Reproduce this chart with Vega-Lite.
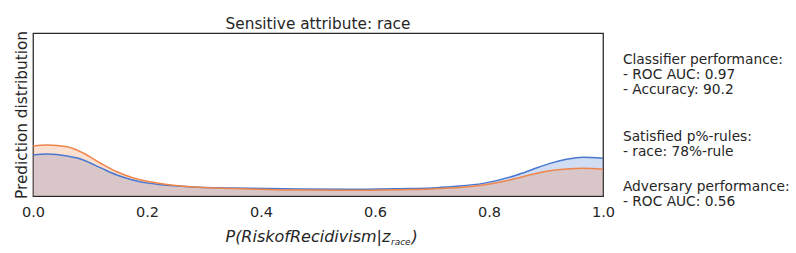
{
  "$schema": "https://vega.github.io/schema/vega-lite/v6.json",
  "width": 570,
  "height": 163,
  "autosize": {"type": "none"},
  "padding": {"left": 33, "top": 33, "right": 193, "bottom": 57},
  "background": "white",
  "config": {
    "font": "DejaVu Sans",
    "view": {"stroke": "#262626", "strokeWidth": 1.25},
    "axis": {"grid": false, "domain": false, "ticks": false, "labelColor": "#262626", "titleColor": "#262626", "titleFontWeight": "normal"},
    "title": {"color": "#262626", "fontWeight": "normal"}
  },
  "title": {"text": "Sensitive attribute: race", "fontSize": 15.3, "offset": -1.5, "font": "DejaVu Sans"},
  "datasets": {
    "kde": [
      {"x": 0.0, "density": 2.01, "group": "race = 0"},
      {"x": 0.025, "density": 2.06, "group": "race = 0"},
      {"x": 0.06, "density": 1.96, "group": "race = 0"},
      {"x": 0.088, "density": 1.77, "group": "race = 0"},
      {"x": 0.118, "density": 1.39, "group": "race = 0"},
      {"x": 0.147, "density": 1.03, "group": "race = 0"},
      {"x": 0.175, "density": 0.79, "group": "race = 0"},
      {"x": 0.205, "density": 0.62, "group": "race = 0"},
      {"x": 0.235, "density": 0.53, "group": "race = 0"},
      {"x": 0.29, "density": 0.43, "group": "race = 0"},
      {"x": 0.35, "density": 0.39, "group": "race = 0"},
      {"x": 0.47, "density": 0.34, "group": "race = 0"},
      {"x": 0.55, "density": 0.33, "group": "race = 0"},
      {"x": 0.644, "density": 0.36, "group": "race = 0"},
      {"x": 0.7, "density": 0.39, "group": "race = 0"},
      {"x": 0.732, "density": 0.46, "group": "race = 0"},
      {"x": 0.79, "density": 0.62, "group": "race = 0"},
      {"x": 0.849, "density": 1.03, "group": "race = 0"},
      {"x": 0.877, "density": 1.31, "group": "race = 0"},
      {"x": 0.907, "density": 1.6, "group": "race = 0"},
      {"x": 0.936, "density": 1.8, "group": "race = 0"},
      {"x": 0.965, "density": 1.9, "group": "race = 0"},
      {"x": 1.0, "density": 1.85, "group": "race = 0"},
      {"x": 0.0, "density": 2.45, "group": "race = 1"},
      {"x": 0.025, "density": 2.5, "group": "race = 1"},
      {"x": 0.06, "density": 2.42, "group": "race = 1"},
      {"x": 0.088, "density": 2.11, "group": "race = 1"},
      {"x": 0.118, "density": 1.62, "group": "race = 1"},
      {"x": 0.147, "density": 1.19, "group": "race = 1"},
      {"x": 0.175, "density": 0.9, "group": "race = 1"},
      {"x": 0.205, "density": 0.7, "group": "race = 1"},
      {"x": 0.235, "density": 0.57, "group": "race = 1"},
      {"x": 0.29, "density": 0.43, "group": "race = 1"},
      {"x": 0.35, "density": 0.37, "group": "race = 1"},
      {"x": 0.47, "density": 0.29, "group": "race = 1"},
      {"x": 0.55, "density": 0.285, "group": "race = 1"},
      {"x": 0.644, "density": 0.31, "group": "race = 1"},
      {"x": 0.7, "density": 0.34, "group": "race = 1"},
      {"x": 0.732, "density": 0.39, "group": "race = 1"},
      {"x": 0.79, "density": 0.54, "group": "race = 1"},
      {"x": 0.849, "density": 0.87, "group": "race = 1"},
      {"x": 0.877, "density": 1.07, "group": "race = 1"},
      {"x": 0.907, "density": 1.24, "group": "race = 1"},
      {"x": 0.936, "density": 1.33, "group": "race = 1"},
      {"x": 0.965, "density": 1.36, "group": "race = 1"},
      {"x": 1.0, "density": 1.31, "group": "race = 1"}
    ],
    "one": [{"note": "annotation"}]
  },
  "layer": [
    {
      "data": {"name": "kde"},
      "mark": {"type": "area", "interpolate": "monotone", "fillOpacity": 0.25},
      "encoding": {
        "x": {"field": "x", "type": "quantitative", "scale": {"domain": [0, 1], "nice": false, "zero": false},
          "axis": {"title": null, "values": [0, 0.2, 0.4, 0.6, 0.8, 1.0], "format": ".1f", "labelFontSize": 14.5, "labelPadding": 9, "labelFlush": false}},
        "y": {"field": "density", "type": "quantitative", "stack": null, "scale": {"domain": [0, 8], "nice": false},
          "axis": {"title": "Prediction distribution", "labels": false, "titleFontSize": 15.3, "titlePadding": 4}},
        "color": {"field": "group", "type": "nominal", "scale": {"domain": ["race = 0", "race = 1"], "range": ["#4878d0", "#ee854a"]}, "legend": null}
      }
    },
    {
      "data": {"name": "kde"},
      "mark": {"type": "line", "interpolate": "monotone", "strokeWidth": 1.5},
      "encoding": {
        "x": {"field": "x", "type": "quantitative"},
        "y": {"field": "density", "type": "quantitative"},
        "color": {"field": "group", "type": "nominal", "legend": null}
      }
    },
    {
      "data": {"name": "one"},
      "mark": {"type": "text", "text": ["Classifier performance:", "- ROC AUC: 0.97", "- Accuracy: 90.2"], "align": "left", "baseline": "alphabetic", "fontSize": 13.75, "lineHeight": 15, "color": "#262626"},
      "encoding": {"x": {"datum": 1.035, "type": "quantitative"}, "y": {"datum": 6.48, "type": "quantitative"}}
    },
    {
      "data": {"name": "one"},
      "mark": {"type": "text", "text": ["Satisfied p%-rules:", "- race: 78%-rule"], "align": "left", "baseline": "alphabetic", "fontSize": 13.75, "lineHeight": 15, "color": "#262626"},
      "encoding": {"x": {"datum": 1.035, "type": "quantitative"}, "y": {"datum": 2.7, "type": "quantitative"}}
    },
    {
      "data": {"name": "one"},
      "mark": {"type": "text", "text": ["Adversary performance:", "- ROC AUC: 0.56"], "align": "left", "baseline": "alphabetic", "fontSize": 13.75, "lineHeight": 15, "color": "#262626"},
      "encoding": {"x": {"datum": 1.035, "type": "quantitative"}, "y": {"datum": 0.245, "type": "quantitative"}}
    },
    {
      "data": {"name": "one"},
      "mark": {"type": "text", "text": "P(RiskofRecidivism|z", "align": "right", "baseline": "alphabetic", "fontSize": 16, "fontStyle": "italic", "color": "#262626"},
      "encoding": {"x": {"datum": 0.627, "type": "quantitative"}, "y": {"datum": -2.26, "type": "quantitative"}}
    },
    {
      "data": {"name": "one"},
      "mark": {"type": "text", "text": "race", "align": "left", "baseline": "alphabetic", "fontSize": 9, "fontStyle": "italic", "color": "#262626"},
      "encoding": {"x": {"datum": 0.628, "type": "quantitative"}, "y": {"datum": -2.41, "type": "quantitative"}}
    },
    {
      "data": {"name": "one"},
      "mark": {"type": "text", "text": ")", "align": "left", "baseline": "alphabetic", "fontSize": 16, "fontStyle": "italic", "color": "#262626"},
      "encoding": {"x": {"datum": 0.664, "type": "quantitative"}, "y": {"datum": -2.26, "type": "quantitative"}}
    }
  ]
}
